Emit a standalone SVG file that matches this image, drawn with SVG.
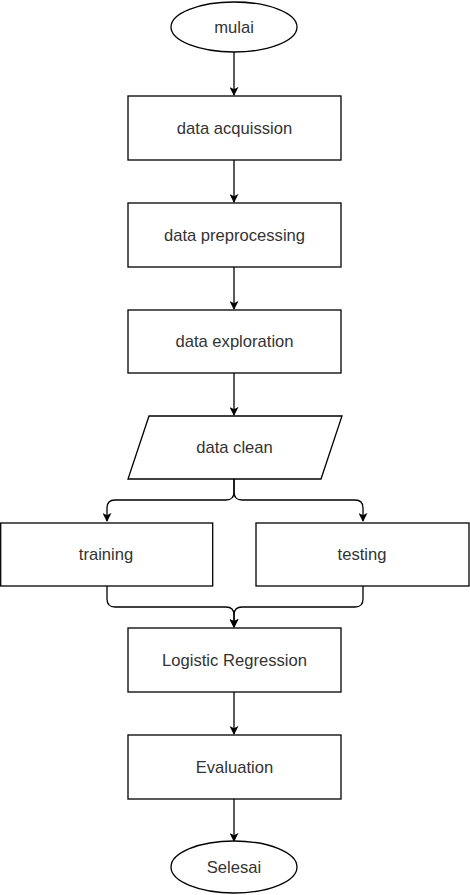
<svg xmlns="http://www.w3.org/2000/svg" width="470" height="895" viewBox="0 0 470 895">
<style>
.n{fill:#fff;stroke:#000;stroke-width:1.3}
.t{font-family:"Liberation Sans",Arial,sans-serif;font-size:16.6px;fill:#333;text-anchor:middle;dominant-baseline:central}
.e{fill:none;stroke:#000;stroke-width:1.3}
</style>
<defs>
<marker id="a" viewBox="0 0 10 10" refX="9" refY="5" markerWidth="9" markerHeight="9" markerUnits="userSpaceOnUse" orient="auto">
<path d="M0,0 L10,5 L0,10 L2.5,5 Z" fill="#000"/>
</marker>
</defs>
<rect width="470" height="895" fill="#fff"/>
<g id="edges">
<path class="e" d="M234,52 V95" marker-end="url(#a)"/>
<path class="e" d="M234,160 V202" marker-end="url(#a)"/>
<path class="e" d="M234,267 V309" marker-end="url(#a)"/>
<path class="e" d="M234,373 V415" marker-end="url(#a)"/>
<path class="e" d="M234,479 V492 Q234,500 226,500 H115 Q107,500 107,508 V521" marker-end="url(#a)"/>
<path class="e" d="M234,479 V492 Q234,500 242,500 H355 Q363,500 363,508 V521" marker-end="url(#a)"/>
<path class="e" d="M107,586 V599 Q107,607 115,607 H226 Q234,607 234,615 V627" marker-end="url(#a)"/>
<path class="e" d="M363,586 V599 Q363,607 355,607 H242 Q234,607 234,615 V627" marker-end="url(#a)"/>
<path class="e" d="M234,692 V734" marker-end="url(#a)"/>
<path class="e" d="M234,799 V841" marker-end="url(#a)"/>
</g>
<g id="mulai"><ellipse class="n" cx="234" cy="27" rx="63" ry="25"/><text class="t" x="234" y="27">mulai</text></g>
<g id="acquisition"><rect class="n" x="128" y="96" width="213" height="64"/><text class="t" x="234.5" y="128">data acquission</text></g>
<g id="preprocessing"><rect class="n" x="128" y="203" width="213" height="64"/><text class="t" x="234.5" y="235">data preprocessing</text></g>
<g id="exploration"><rect class="n" x="128" y="310" width="213" height="63"/><text class="t" x="234.5" y="341">data exploration</text></g>
<g id="clean"><polygon class="n" points="149,416 342,416 321,479 128,479"/><text class="t" x="234.5" y="447">data clean</text></g>
<g id="training"><rect class="n" x="0.7" y="523" width="212" height="63"/><text class="t" x="106" y="554">training</text></g>
<g id="testing"><rect class="n" x="256" y="523" width="213" height="63"/><text class="t" x="362" y="554">testing</text></g>
<g id="lr"><rect class="n" x="128" y="628" width="213" height="64"/><text class="t" x="234.5" y="660">Logistic Regression</text></g>
<g id="evaluation"><rect class="n" x="128" y="735" width="213" height="64"/><text class="t" x="234.5" y="767">Evaluation</text></g>
<g id="selesai"><ellipse class="n" cx="234" cy="867" rx="63" ry="26"/><text class="t" x="234" y="867">Selesai</text></g>
</svg>
